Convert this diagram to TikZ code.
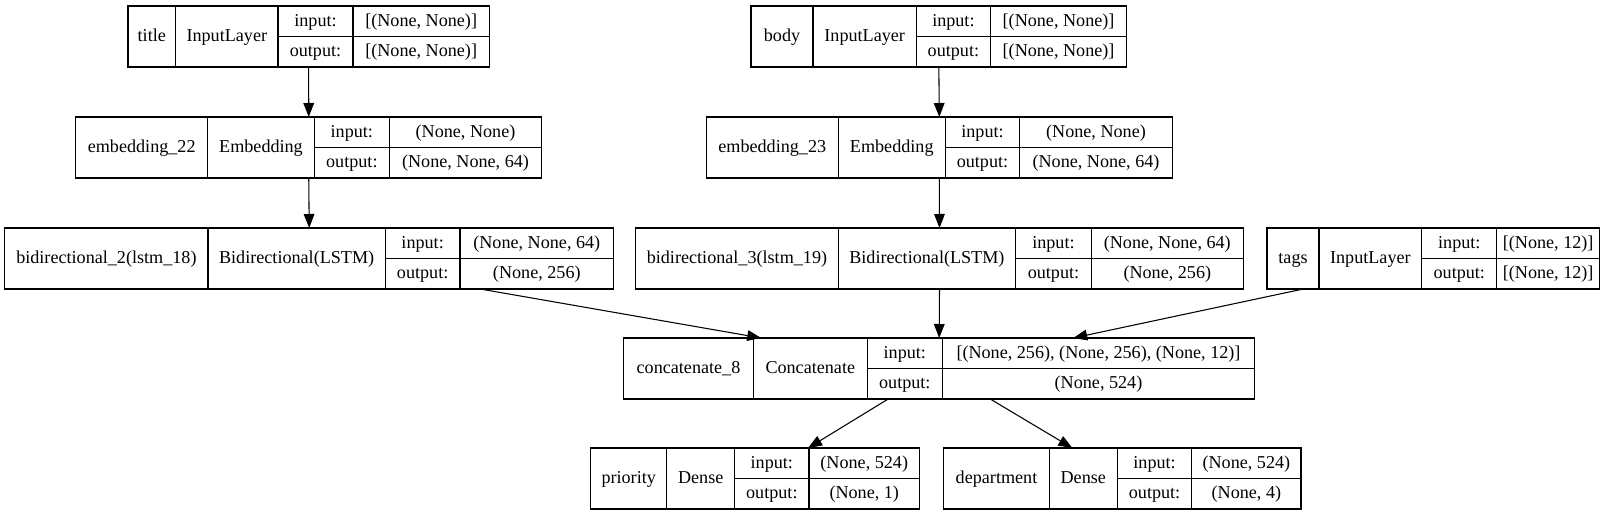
\documentclass[tikz,border=0pt]{standalone}
\usepackage{fontspec}
\setmainfont{Liberation Serif}
\usetikzlibrary{arrows.meta,calc}

\begin{document}
\begin{tikzpicture}[x=0.75pt,y=-0.75pt,
    layer/.style={draw,line width=0.8pt,inner sep=0pt,outer sep=0pt},
    cell/.style={font=\fontsize{13.6}{16}\selectfont,inner sep=0pt,text height=10.5pt,text depth=3pt},
    edge/.style={line width=0.8pt,-{Triangle[length=10.5pt,width=8pt]}}]

\useasboundingbox (0,0) rectangle (1617,516);

\foreach \nd/\xl/\xa/\xb/\xc/\xr/\yt/\lname/\ltype/\lin/\lout in {
    title/128/175.6/278/353/489.3/6/title/InputLayer/{[(None, None)]}/{[(None, None)]},
    body/751/813/916.4/990.4/1126.7/6/body/InputLayer/{[(None, None)]}/{[(None, None)]},
    emb22/75.8/207.6/314.4/389.3/541.7/117/embedding\_22/Embedding/{(None, None)}/{(None, None, 64)},
    emb23/706.3/838.2/945.3/1019.7/1172.3/117/embedding\_23/Embedding/{(None, None)}/{(None, None, 64)},
    bidir2/4.8/208/385.3/460/613.6/228/bidirectional\_2(lstm\_18)/Bidirectional(LSTM)/{(None, None, 64)}/{(None, 256)},
    bidir3/635.7/838.2/1015.6/1091.3/1243.3/228/bidirectional\_3(lstm\_19)/Bidirectional(LSTM)/{(None, None, 64)}/{(None, 256)},
    tags/1267/1319/1421.8/1496.8/1599.5/228/tags/InputLayer/{[(None, 12)]}/{[(None, 12)]},
    concat/623.7/753.3/867.3/942.3/1254.7/338/concatenate\_8/Concatenate/{[(None, 256), (None, 256), (None, 12)]}/{(None, 524)},
    priority/590.7/666.7/734.7/809/919.5/448/priority/Dense/{(None, 524)}/{(None, 1)},
    department/943.7/1049.3/1117.3/1191.8/1301/448/department/Dense/{(None, 524)}/{(None, 4)}}
{
    \node[layer,minimum width={(\xr-\xl)*0.75pt},minimum height={61*0.75pt}] (\nd) at ({(\xl+\xr)/2},\yt+30.5) {};
    \draw[line width=0.8pt] (\xa,\yt) -- (\xa,\yt+61) (\xb,\yt) -- (\xb,\yt+61)
        (\xc,\yt) -- (\xc,\yt+61) (\xb,\yt+30.5) -- (\xr,\yt+30.5);
    \node[cell] at ({(\xl+\xa)/2},\yt+30.5) {\lname};
    \node[cell] at ({(\xa+\xb)/2},\yt+30.5) {\ltype};
    \node[cell] at ({(\xb+\xc)/2},\yt+15.25) {input:};
    \node[cell] at ({(\xb+\xc)/2},\yt+45.75) {output:};
    \node[cell] at ({(\xc+\xr)/2},\yt+15.25) {\lin};
    \node[cell] at ({(\xc+\xr)/2},\yt+45.75) {\lout};
}

\draw[edge] (title.south) -- (emb22.north);
\draw[edge] (emb22.south) -- (bidir2.north);
\draw[edge] (body.south) -- (emb23.north);
\draw[edge] (emb23.south) -- (bidir3.north);
\draw[edge] (bidir3.south) -- (concat.north);
\draw[edge] ($(bidir2.south)+(171,0)$) -- ($(concat.north)+(-178,0)$);
\draw[edge] ($(tags.south)+(-130,0)$) -- ($(concat.north)+(134,0)$);
\draw[edge] ($(concat.south)+(-51,0)$) -- ($(priority.north)+(53,0)$);
\draw[edge] ($(concat.south)+(51,0)$) -- ($(department.north)+(-50,0)$);

\end{tikzpicture}
\end{document}
